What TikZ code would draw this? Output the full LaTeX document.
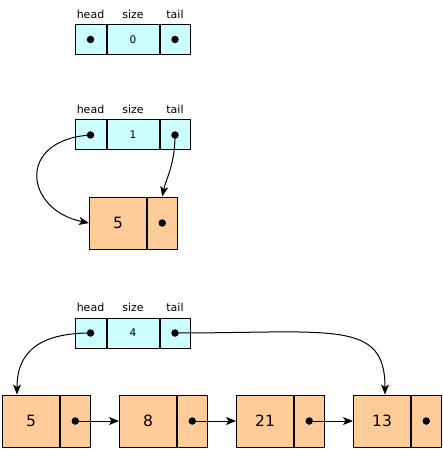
\documentclass[tikz,border=0pt]{standalone}
\usepackage{fontspec}
\setmainfont{DejaVu Sans}
\usetikzlibrary{positioning, arrows.meta}
\definecolor{hdrfill}{RGB}{204,255,255}
\definecolor{cellfill}{RGB}{255,204,153}
\tikzstyle{hcell}=[draw, fill=hdrfill, minimum height=30, inner sep=0pt, font=\fontsize{10.5}{12}\selectfont]
\tikzstyle{lbl}=[font=\fontsize{11}{13}\selectfont, inner sep=1pt]
\tikzstyle{vcell}=[draw, fill=cellfill, minimum width=57, minimum height=52, inner sep=0pt, font=\fontsize{15.5}{18}\selectfont]
\tikzstyle{pcell}=[draw, fill=cellfill, minimum width=29.5, minimum height=52, inner sep=0pt]
\tikzstyle{dot}=[circle, fill=black, inner sep=0pt, minimum size=7.5]
\tikzset{>={Stealth[length=10pt, width=8pt, inset=2.5pt]}}

\begin{document}
\begin{tikzpicture}[x=1pt, y=-1pt, line width=1pt, label distance=4pt]
\useasboundingbox (0,0) rectangle (442,449);
% the three list headers
\foreach \i/\y/\n in {1/39.5/0, 2/135/1, 3/333/4}{
\node[hcell, minimum width=31, label={[lbl]above:head}] (head\i) at (90.5,\y) {};
\node[hcell, minimum width=52, right=0pt of head\i, label={[lbl]above:size}] (size\i) {\n};
\node[hcell, minimum width=30, right=0pt of size\i, label={[lbl]above:tail}] (tail\i) {};
\node[dot] (hd\i) at (head\i) {};
\node[dot] (td\i) at (tail\i) {};
}
% one element
\node[vcell] (val) at (118,223) {5};
\node[pcell, right=0pt of val] (ptr) {};
\node[dot] (pd) at (ptr) {};
\draw[->] (hd2.center) .. controls +(-75,5) and +(-64,-13) .. (val.west);
\draw[->] (td2.center) .. controls +(0,30) and +(3.5,-17) .. (ptr.north);
% four elements
\foreach \i/\v in {1/5, 2/8, 3/21, 4/13}{
\node[vcell] (v\i) at (117*\i-86, 421) {\v};
\node[pcell, right=0pt of v\i] (p\i) {};
\node[dot] (d\i) at (p\i) {};
}
\foreach \i/\j in {1/2, 2/3, 3/4}
\draw[->] (d\i.center) -- (v\j);
\draw[->] (hd3.center) .. controls +(-60,0) and +(0,-35) .. ([xshift=15pt]v1.north west);
\draw[->] (td3.center) .. controls +(158,0) and +(0,-75) .. ([xshift=3pt]v4.north);
\end{tikzpicture}
\end{document}
